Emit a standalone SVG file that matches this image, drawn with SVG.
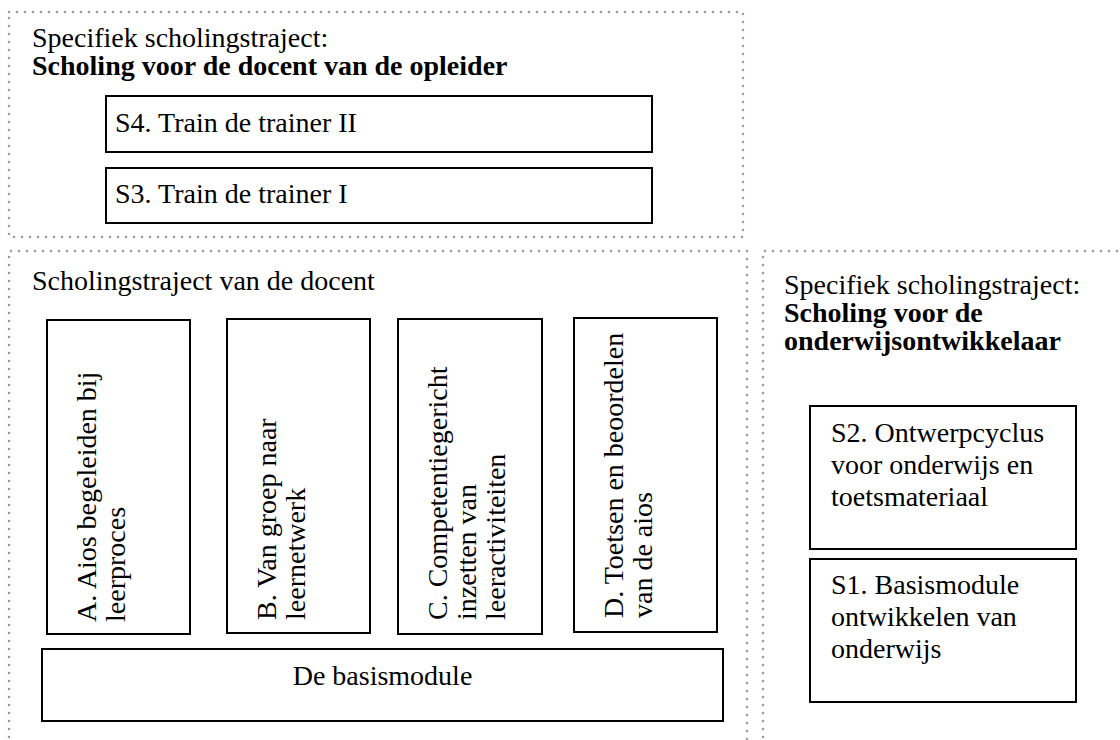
<svg xmlns="http://www.w3.org/2000/svg" width="1120" height="740" viewBox="0 0 1120 740">
<style>
  .dot { fill: none; stroke: #9b9b9b; stroke-width: 2.6; stroke-dasharray: 0 8; stroke-linecap: round; }
  .box { fill: #ffffff; stroke: #000000; stroke-width: 2; }
  text { font-family: "Liberation Serif", "Times New Roman", serif; font-size: 28px; fill: #000000; }
  .b { font-weight: bold; }
</style>
<rect width="1120" height="740" fill="#ffffff"/>
<g id="group-opleider">
  <rect class="dot" x="9" y="12" width="734" height="225"/>
  <text x="32" y="47">Specifiek scholingstraject:</text>
  <text class="b" x="32" y="75">Scholing voor de docent van de opleider</text>
</g>
<g id="node-s4">
  <rect class="box" x="106" y="96" width="546" height="56"/>
  <text x="115" y="132">S4. Train de trainer II</text>
</g>
<g id="node-s3">
  <rect class="box" x="106" y="168" width="546" height="55"/>
  <text x="115" y="203">S3. Train de trainer I</text>
</g>
<g id="group-docent">
  <path class="dot" d="M9 745 L9 251 L747 251 L747 745"/>
  <text x="32" y="290">Scholingstraject van de docent</text>
</g>
<g id="node-a">
  <rect class="box" x="47" y="320" width="143" height="314"/>
  <text transform="translate(96 622) rotate(-90)"><tspan x="0" y="0">A. Aios begeleiden bij</tspan><tspan x="0" y="29">leerproces</tspan></text>
</g>
<g id="node-b">
  <rect class="box" x="227" y="319" width="143" height="314"/>
  <text transform="translate(276 620) rotate(-90)"><tspan x="0" y="0">B. Van groep naar</tspan><tspan x="0" y="29">leernetwerk</tspan></text>
</g>
<g id="node-c">
  <rect class="box" x="398" y="319" width="144" height="315"/>
  <text transform="translate(447 620) rotate(-90)"><tspan x="0" y="0">C. Competentiegericht</tspan><tspan x="0" y="29">inzetten van</tspan><tspan x="0" y="58">leeractiviteiten</tspan></text>
</g>
<g id="node-d">
  <rect class="box" x="574" y="318" width="143" height="314"/>
  <text transform="translate(623 618) rotate(-90)"><tspan x="0" y="0">D. Toetsen en beoordelen</tspan><tspan x="0" y="29">van de aios</tspan></text>
</g>
<g id="node-basismodule">
  <rect class="box" x="42" y="649" width="681" height="72"/>
  <text x="382.5" y="685" text-anchor="middle">De basismodule</text>
</g>
<g id="group-onderwijsontwikkelaar">
  <path class="dot" d="M763 745 L763 251 L1125 251"/>
  <text x="784" y="294">Specifiek scholingstraject:</text>
  <text class="b" x="784" y="322">Scholing voor de</text>
  <text class="b" x="784" y="350">onderwijsontwikkelaar</text>
</g>
<g id="node-s2">
  <rect class="box" x="810" y="406" width="266" height="143"/>
  <text x="831" y="442">S2. Ontwerpcyclus</text>
  <text x="831" y="474">voor onderwijs en</text>
  <text x="831" y="506">toetsmateriaal</text>
</g>
<g id="node-s1">
  <rect class="box" x="810" y="559" width="266" height="143"/>
  <text x="831" y="594">S1. Basismodule</text>
  <text x="831" y="626">ontwikkelen van</text>
  <text x="831" y="658">onderwijs</text>
</g>
<g id="connectors"></g>
</svg>
